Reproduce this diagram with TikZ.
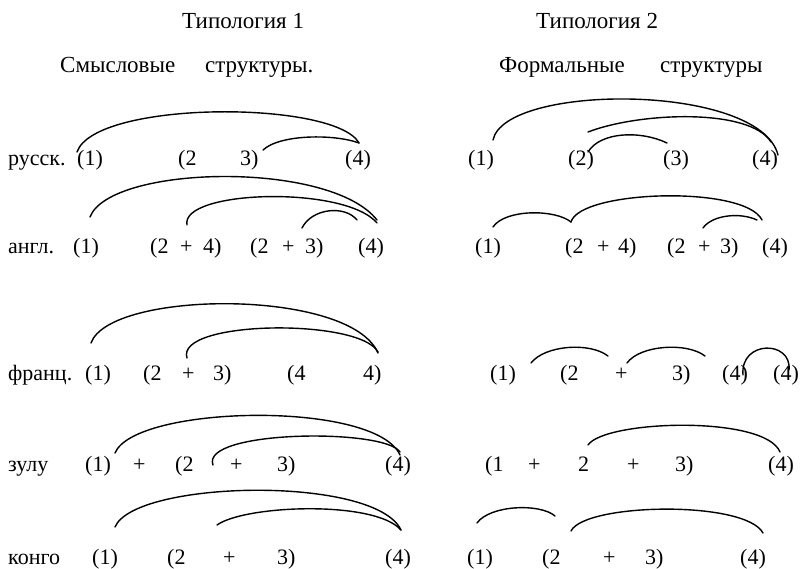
\documentclass[tikz,border=0pt]{standalone}
\usepackage{fontspec}
\setmainfont{Liberation Serif}
\begin{document}
\begin{tikzpicture}[x=1pt,y=-1pt,
  tok/.style={inner sep=0pt,anchor=base west,font=\rmfamily\fontsize{22}{26}\selectfont},
  head/.style={inner sep=0pt,anchor=base west,font=\rmfamily\fontsize{23}{27}\selectfont},
  link/.style={line width=1.4pt,line cap=round}]
\useasboundingbox (0,0) rectangle (801,568);

% headings
\node[head] (h1) at (182,28) {Типология 1};
\node[head] (h2) at (536,28) {Типология 2};
\node[head] (s1a) at (60,72) {Смысловые};
\node[head] (s1b) at (205,72) {структуры.};
\node[head] (s2a) at (499,72) {Формальные};
\node[head] (s2b) at (660,72) {структуры};

% ---- row 1: русск.
\node[tok] (a0) at (8,165) {русск.};
\node[tok] (a1) at (77,165) {(1)};
\node[tok] (a2) at (178,165) {(2};
\node[tok] (a3) at (240,165) {3)};
\node[tok] (a4) at (345,165) {(4)};
\node[tok] (b1) at (468,165) {(1)};
\node[tok] (b2) at (568,165) {(2)};
\node[tok] (b3) at (663,165) {(3)};
\node[tok] (b4) at (752,165) {(4)};

% ---- row 2: англ.
\node[tok] (c0) at (8,253) {англ.};
\node[tok] (c1) at (73,253) {(1)};
\node[tok] (c2) at (150,253) {(2};
\node[tok] (c3) at (180,253) {+};
\node[tok] (c4) at (203,253) {4)};
\node[tok] (c5) at (250,253) {(2};
\node[tok] (c6) at (282,253) {+};
\node[tok] (c7) at (305,253) {3)};
\node[tok] (c8) at (358,253) {(4)};
\node[tok] (d1) at (475,253) {(1)};
\node[tok] (d2) at (565,253) {(2};
\node[tok] (d3) at (597,253) {+};
\node[tok] (d4) at (618,253) {4)};
\node[tok] (d5) at (667,253) {(2};
\node[tok] (d6) at (698,253) {+};
\node[tok] (d7) at (720,253) {3)};
\node[tok] (d8) at (762,253) {(4)};

% ---- row 3: франц.
\node[tok] (e0) at (8,380) {франц.};
\node[tok] (e1) at (85,380) {(1)};
\node[tok] (e2) at (143,380) {(2};
\node[tok] (e3) at (182,380) {+};
\node[tok] (e4) at (213,380) {3)};
\node[tok] (e5) at (287,380) {(4};
\node[tok] (e6) at (363,380) {4)};
\node[tok] (f1) at (490,380) {(1)};
\node[tok] (f2) at (560,380) {(2};
\node[tok] (f3) at (615,380) {+};
\node[tok] (f4) at (672,380) {3)};
\node[tok] (f5) at (722,380) {(4)};
\node[tok] (f6) at (773,380) {(4)};

% ---- row 4: зулу
\node[tok] (g0) at (8,471) {зулу};
\node[tok] (g1) at (85,471) {(1)};
\node[tok] (g2) at (133,471) {+};
\node[tok] (g3) at (175,471) {(2};
\node[tok] (g4) at (230,471) {+};
\node[tok] (g5) at (277,471) {3)};
\node[tok] (g6) at (385,471) {(4)};
\node[tok] (h1r) at (485,471) {(1};
\node[tok] (h2r) at (528,471) {+};
\node[tok] (h3r) at (578,471) {2};
\node[tok] (h4r) at (627,471) {+};
\node[tok] (h5r) at (675,471) {3)};
\node[tok] (h6r) at (768,471) {(4)};

% ---- row 5: конго
\node[tok] (i0) at (8,564) {конго};
\node[tok] (i1) at (92,564) {(1)};
\node[tok] (i2) at (167,564) {(2};
\node[tok] (i3) at (223,564) {+};
\node[tok] (i4) at (277,564) {3)};
\node[tok] (i5) at (385,564) {(4)};
\node[tok] (j1) at (467,564) {(1)};
\node[tok] (j2) at (542,564) {(2};
\node[tok] (j3) at (603,564) {+};
\node[tok] (j4) at (645,564) {3)};
\node[tok] (j5) at (740,564) {(4)};

% arc end points
\coordinate (pa1) at (77,152);  \coordinate (pa3) at (263,150); \coordinate (pa4) at (359,143);
\coordinate (pb1) at (493,140); \coordinate (pb2a) at (588,132); \coordinate (pb2b) at (588,152);
\coordinate (pb3) at (667,143); \coordinate (pb4a) at (778,155); \coordinate (pb4b) at (771,142);
\coordinate (pc1) at (90,217);  \coordinate (pc2) at (187,225); \coordinate (pc6) at (302,228);
\coordinate (pc8a) at (377,220); \coordinate (pc8b) at (377,223); \coordinate (pc8c) at (357,220);
\coordinate (pd1) at (493,227); \coordinate (pd2) at (571,222); \coordinate (pd6) at (703,228);
\coordinate (pd8a) at (762,220); \coordinate (pd8b) at (757,220);
\coordinate (pe1) at (91,343);  \coordinate (pe2) at (187,358); \coordinate (pe6a) at (378,353); \coordinate (pe6b) at (378,352);
\coordinate (pf1a) at (531,363); \coordinate (pf1b) at (608,356);
\coordinate (pf2a) at (627,363); \coordinate (pf2b) at (705,356);
\coordinate (pf5) at (743,375); \coordinate (pf6) at (789,370);
\coordinate (pg1) at (115,453); \coordinate (pg3) at (213,465); \coordinate (pg6a) at (400,455); \coordinate (pg6b) at (400,452);
\coordinate (ph3) at (588,445); \coordinate (ph6) at (780,452);
\coordinate (pi1) at (115,527); \coordinate (pi2) at (217,525); \coordinate (pi5) at (401,530);
\coordinate (pj1a) at (477,523); \coordinate (pj1b) at (555,516);
\coordinate (pj2) at (571,531); \coordinate (pj5) at (763,533);

% row 1 links
\draw[link] (pa1) .. controls (95,100) and (335,100) .. (pa4);
\draw[link] (pa3) .. controls (280,134) and (335,134) .. (pa4);
\draw[link] (pb1) .. controls (505,83) and (760,83) .. (pb4a);
\draw[link] (pb2a) .. controls (640,112) and (750,108) .. (pb4b);
\draw[link] (pb2b) .. controls (600,132) and (640,130) .. (pb3);
% row 2 links
\draw[link] (pc1) .. controls (110,165) and (330,160) .. (pc8a);
\draw[link] (pc2) .. controls (180,190) and (345,185) .. (pc8b);
\draw[link] (pc6) .. controls (312,208) and (345,205) .. (pc8c);
\draw[link] (pd1) .. controls (505,209) and (555,209) .. (pd2);
\draw[link] (pd2) .. controls (580,190) and (745,185) .. (pd8a);
\draw[link] (pd6) .. controls (712,215) and (740,212) .. (pd8b);
% row 3 links
\draw[link] (pe1) .. controls (110,290) and (350,288) .. (pe6a);
\draw[link] (pe2) .. controls (175,320) and (360,318) .. (pe6b);
\draw[link] (pf1a) .. controls (545,345) and (590,342) .. (pf1b);
\draw[link] (pf2a) .. controls (640,345) and (687,342) .. (pf2b);
\draw[link] (pf5) .. controls (740,340) and (792,340) .. (pf6);
% row 4 links
\draw[link] (pg1) .. controls (135,405) and (375,400) .. (pg6a);
\draw[link] (pg3) .. controls (200,430) and (385,428) .. (pg6b);
\draw[link] (ph3) .. controls (605,420) and (765,415) .. (ph6);
% row 5 links
\draw[link] (pi1) .. controls (135,480) and (375,475) .. (pi5);
\draw[link] (pi2) .. controls (245,505) and (375,500) .. (pi5);
\draw[link] (pj1a) .. controls (490,505) and (540,503) .. (pj1b);
\draw[link] (pj2) .. controls (585,503) and (745,500) .. (pj5);
\end{tikzpicture}
\end{document}
